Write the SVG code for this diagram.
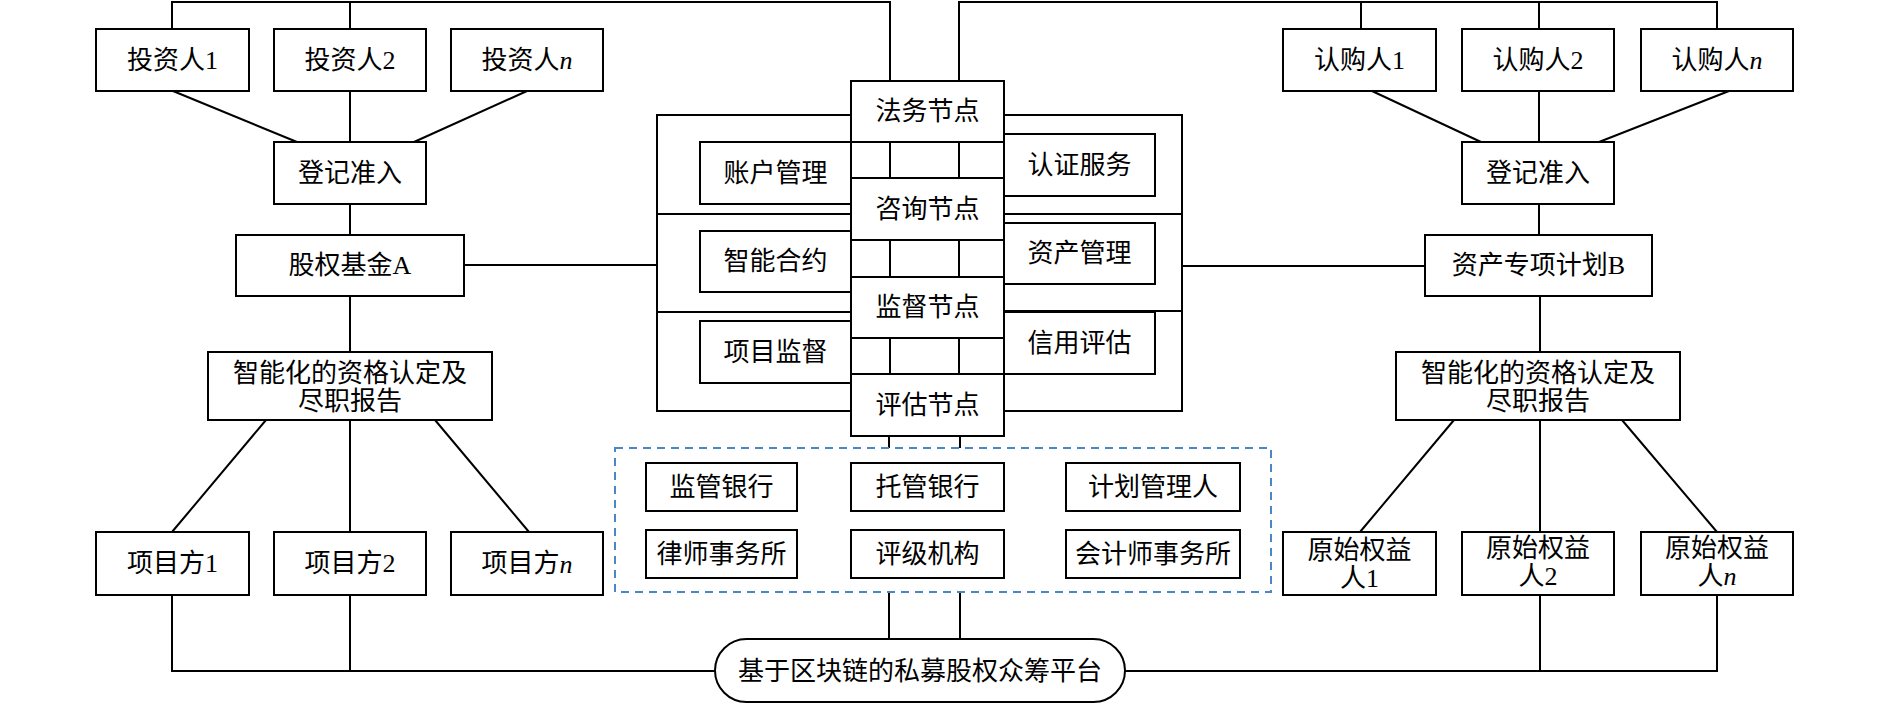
<svg xmlns="http://www.w3.org/2000/svg" width="1890" height="704" viewBox="0 0 1890 704">
<style>
.b{fill:#fff;stroke:#000;stroke-width:2}
.c{fill:none;stroke:#000;stroke-width:2}
text{font-family:"Liberation Serif","Noto Sans CJK SC",serif;font-size:26px;fill:#000;text-anchor:middle;dominant-baseline:central}
.i{font-style:italic}
.d{fill:none;stroke:#4a86c8;stroke-width:2;stroke-dasharray:8 6}
</style>
<rect width="1890" height="704" fill="#fff"/>
<g id="connectors" class="c">
<path d="M172 29V2H890V81M350 2V29"/>
<path d="M959 81V2H1717V29M1361 2V29M1539 2V29"/>
<path d="M173 91L297 142M350 91V142M527 91L414 142M350 204V235M350 296V352"/>
<path d="M1372 91L1481 142M1539 91V142M1729 91L1599 142M1539 204V235M1540 296V352"/>
<path d="M266 420L172 532M350 420V532M435 420L529 532"/>
<path d="M1454 420L1360 532M1540 420V532M1622 420L1717 532"/>
<path d="M172 595V671H715M350 595V671"/>
<path d="M1540 595V671M1717 595V671H1125"/>
<path d="M464 265H657M1182 266H1425"/>
<path d="M851 115H657V411H851M657 214H851M657 312H851"/>
<path d="M1004 115H1182V411H1004M1004 214H1182M1004 311H1182"/>
<path d="M890 142V178M959 142V178M890 240V277M959 240V277M890 338V374M959 338V374"/>
<path d="M889 436V448M960 436V448M889 592V639M960 592V639"/>
</g>
<rect class="d" x="615" y="448" width="656" height="144"/>
<g id="inv1"><rect class="b" x="96" y="29" width="153" height="62"/><text x="172.5" y="60">投资人1</text></g>
<g id="inv2"><rect class="b" x="274" y="29" width="152" height="62"/><text x="350" y="60">投资人2</text></g>
<g id="invn"><rect class="b" x="451" y="29" width="152" height="62"/><text x="527" y="60">投资人<tspan class="i">n</tspan></text></g>
<g id="regL"><rect class="b" x="274" y="142" width="152" height="62"/><text x="350" y="173">登记准入</text></g>
<g id="fundA"><rect class="b" x="236" y="235" width="228" height="61"/><text x="350" y="265.5">股权基金A</text></g>
<g id="qualL"><rect class="b" x="208" y="352" width="284" height="68"/><text x="350" y="373">智能化的资格认定及</text><text x="350" y="401">尽职报告</text></g>
<g id="proj1"><rect class="b" x="96" y="532" width="153" height="63"/><text x="172.5" y="563.5">项目方1</text></g>
<g id="proj2"><rect class="b" x="274" y="532" width="152" height="63"/><text x="350" y="563.5">项目方2</text></g>
<g id="projn"><rect class="b" x="451" y="532" width="152" height="63"/><text x="527" y="563.5">项目方<tspan class="i">n</tspan></text></g>
<g id="sub1"><rect class="b" x="1283" y="29" width="153" height="62"/><text x="1359.5" y="60">认购人1</text></g>
<g id="sub2"><rect class="b" x="1462" y="29" width="152" height="62"/><text x="1538" y="60">认购人2</text></g>
<g id="subn"><rect class="b" x="1641" y="29" width="152" height="62"/><text x="1717" y="60">认购人<tspan class="i">n</tspan></text></g>
<g id="regR"><rect class="b" x="1462" y="142" width="152" height="62"/><text x="1538" y="173">登记准入</text></g>
<g id="planB"><rect class="b" x="1425" y="235" width="227" height="61"/><text x="1538.5" y="265.5">资产专项计划B</text></g>
<g id="qualR"><rect class="b" x="1396" y="352" width="284" height="68"/><text x="1538" y="373">智能化的资格认定及</text><text x="1538" y="401">尽职报告</text></g>
<g id="orig1"><rect class="b" x="1283" y="532" width="153" height="63"/><text x="1359.5" y="550">原始权益</text><text x="1359.5" y="578">人1</text></g>
<g id="orig2"><rect class="b" x="1462" y="532" width="152" height="63"/><text x="1538" y="548">原始权益</text><text x="1538" y="576">人2</text></g>
<g id="orign"><rect class="b" x="1641" y="532" width="152" height="63"/><text x="1717" y="548">原始权益</text><text x="1717" y="576">人<tspan class="i">n</tspan></text></g>
<g id="acct"><rect class="b" x="700" y="142" width="151" height="62"/><text x="775.5" y="173">账户管理</text></g>
<g id="smart"><rect class="b" x="700" y="231" width="151" height="61"/><text x="775.5" y="261.5">智能合约</text></g>
<g id="projsup"><rect class="b" x="700" y="321" width="151" height="62"/><text x="775.5" y="352">项目监督</text></g>
<g id="auth"><rect class="b" x="1004" y="134" width="151" height="62"/><text x="1079.5" y="165">认证服务</text></g>
<g id="asset"><rect class="b" x="1004" y="223" width="151" height="61"/><text x="1079.5" y="253.5">资产管理</text></g>
<g id="credit"><rect class="b" x="1004" y="312" width="151" height="62"/><text x="1079.5" y="343">信用评估</text></g>
<g id="legal"><rect class="b" x="851" y="81" width="153" height="61"/><text x="927.5" y="111.5">法务节点</text></g>
<g id="consult"><rect class="b" x="851" y="178" width="153" height="62"/><text x="927.5" y="209">咨询节点</text></g>
<g id="supervise"><rect class="b" x="851" y="277" width="153" height="61"/><text x="927.5" y="307.5">监督节点</text></g>
<g id="evaluate"><rect class="b" x="851" y="374" width="153" height="62"/><text x="927.5" y="405">评估节点</text></g>
<g id="bank1"><rect class="b" x="646" y="463" width="151" height="48"/><text x="721.5" y="487">监管银行</text></g>
<g id="bank2"><rect class="b" x="851" y="463" width="153" height="48"/><text x="927.5" y="487">托管银行</text></g>
<g id="planmgr"><rect class="b" x="1066" y="463" width="174" height="48"/><text x="1153" y="487">计划管理人</text></g>
<g id="law"><rect class="b" x="646" y="530" width="151" height="48"/><text x="721.5" y="554">律师事务所</text></g>
<g id="rating"><rect class="b" x="851" y="530" width="153" height="48"/><text x="927.5" y="554">评级机构</text></g>
<g id="acctfirm"><rect class="b" x="1066" y="530" width="174" height="48"/><text x="1153" y="554">会计师事务所</text></g>
<g id="platform"><rect class="b" x="715" y="639" width="410" height="63" rx="31.5"/><text x="920" y="671">基于区块链的私募股权众筹平台</text></g>
</svg>
